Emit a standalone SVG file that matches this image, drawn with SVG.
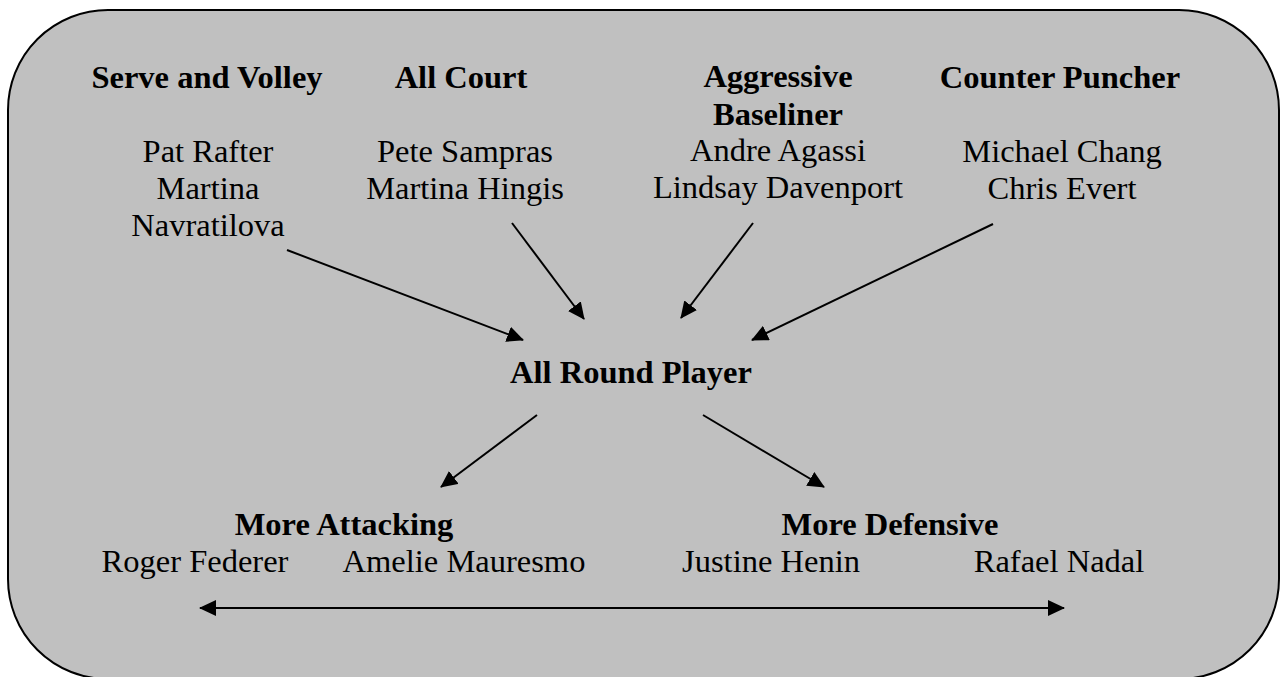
<svg xmlns="http://www.w3.org/2000/svg" width="1282" height="677" viewBox="0 0 1282 677">
<style>
text{font-family:"Liberation Serif","Times New Roman",serif;font-size:32.5px;fill:#000;text-anchor:middle}
.b{font-weight:bold}
.c{stroke:#000;stroke-width:2;fill:none}
</style>
<defs>
<marker id="ah" markerUnits="userSpaceOnUse" markerWidth="17" markerHeight="16" refX="16" refY="8" orient="auto-start-reverse" viewBox="0 0 17 16">
<path d="M0,0 L17,8 L0,16 z" fill="#000"/>
</marker>
</defs>
<rect id="frame" x="8" y="10" width="1271" height="669" rx="100" ry="100" fill="#c0c0c0" stroke="#000" stroke-width="2"/>
<g id="serve-volley">
<text class="b" x="207" y="88">Serve and Volley</text>
<text x="208" y="162">Pat Rafter</text>
<text x="208" y="199">Martina</text>
<text x="208" y="236">Navratilova</text>
</g>
<g id="all-court">
<text class="b" x="461" y="88">All Court</text>
<text x="465" y="162">Pete Sampras</text>
<text x="465" y="199">Martina Hingis</text>
</g>
<g id="aggressive-baseliner">
<text class="b" x="778" y="87">Aggressive</text>
<text class="b" x="778" y="125">Baseliner</text>
<text x="778" y="161">Andre Agassi</text>
<text x="778" y="198">Lindsay Davenport</text>
</g>
<g id="counter-puncher">
<text class="b" x="1060" y="88">Counter Puncher</text>
<text x="1062" y="162">Michael Chang</text>
<text x="1062" y="199">Chris Evert</text>
</g>
<g id="all-round">
<text class="b" x="631" y="383">All Round Player</text>
</g>
<g id="more-attacking">
<text class="b" x="344" y="535">More Attacking</text>
<text x="195" y="572">Roger Federer</text>
<text x="464" y="572">Amelie Mauresmo</text>
</g>
<g id="more-defensive">
<text class="b" x="890" y="535">More Defensive</text>
<text x="771" y="572">Justine Henin</text>
<text x="1059" y="572">Rafael Nadal</text>
</g>
<g id="connectors">
<line class="c" x1="287" y1="250" x2="523" y2="340" marker-end="url(#ah)"/>
<line class="c" x1="512" y1="223" x2="584" y2="319" marker-end="url(#ah)"/>
<line class="c" x1="753" y1="223" x2="681" y2="318" marker-end="url(#ah)"/>
<line class="c" x1="993" y1="224" x2="752" y2="340" marker-end="url(#ah)"/>
<line class="c" x1="537" y1="415" x2="441" y2="487" marker-end="url(#ah)"/>
<line class="c" x1="703" y1="415" x2="824" y2="487" marker-end="url(#ah)"/>
<line class="c" x1="200" y1="608" x2="1064" y2="608" marker-start="url(#ah)" marker-end="url(#ah)"/>
</g>
</svg>
